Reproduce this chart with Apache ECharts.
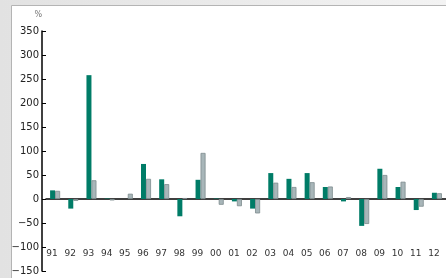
<!DOCTYPE html>
<html>
<head>
<meta charset="utf-8">
<style>
  html, body { margin: 0; padding: 0; background: #ececec; }
  #chart { width: 446px; height: 278px; }
</style>
<script src="https://cdn.jsdelivr.net/npm/echarts@6/dist/echarts.min.js"></script>
</head>
<body>
<div id="chart"></div>
<script>
// years on the x axis
var years = ['91','92','93','94','95','96','97','98','99','00','01','02','03','04','05','06','07','08','09','10','11','12'];
// dark teal series (%)
var tealValues = [18, -20, 258, 1, 0, 73, 41, -36, 40, 1, -5, -20, 54, 42, 54, 25, -5, -56, 63, 25, -23, 13];
// grey series (%)
var greyValues = [17, -4, 39, -3, 11, 42, 31, 2, 96, -12, -15, -30, 34, 25, 35, 26, 4, -52, 50, 36, -16, 12];

var myChart = echarts.init(document.getElementById('chart'));

var option = {
    animation: false,
    backgroundColor: 'transparent',
    textStyle: { fontFamily: 'DejaVu Sans' },
    graphic: [
        {
            type: 'rect',
            left: 0, top: 0,
            shape: { width: 446, height: 278 },
            style: {
                fill: new echarts.graphic.LinearGradient(0, 0, 1, 0, [
                    { offset: 0, color: '#e2e2e2' },
                    { offset: 1, color: '#f3f3f3' }
                ])
            },
            z: -10
        },
        {
            type: 'rect',
            left: 11, top: 5,
            shape: { width: 440, height: 280 },
            style: { fill: '#ffffff', stroke: '#b4b4b4', lineWidth: 1 },
            z: -9
        }
    ],
    grid: {
        left: 46,
        right: 0,
        top: 31,
        bottom: 7,
        containLabel: false,
        outerBoundsMode: 'none'
    },
    xAxis: {
        type: 'category',
        data: years,
        axisLine: { onZero: true, lineStyle: { color: '#000', width: 1.5 } },
        axisTick: { show: false },
        axisLabel: {
            margin: -22,
            fontSize: 9,
            color: '#333',
            padding: [0, 6, 0, 0]
        }
    },
    yAxis: {
        type: 'value',
        min: -150,
        max: 350,
        interval: 50,
        offset: 4,
        name: '%',
        nameGap: 12,
        nameTextStyle: { fontSize: 8, color: '#777', align: 'right' },
        axisLine: { show: true, lineStyle: { color: '#000', width: 1.5 } },
        axisTick: { show: true, inside: true, length: 4, lineStyle: { color: '#000' } },
        axisLabel: {
            fontSize: 10,
            color: '#222',
            margin: 3,
            formatter: function (v) { return String(v).replace('-', '\u2212'); }
        },
        splitLine: { show: false }
    },
    series: [
        {
            type: 'bar',
            data: tealValues,
            barWidth: 5,
            barGap: '0%',
            itemStyle: { color: '#007c67' }
        },
        {
            type: 'bar',
            data: greyValues,
            barWidth: 5,
            itemStyle: { color: '#a8b6b9', borderColor: '#7e8b8e', borderWidth: 0.8 }
        }
    ]
};

myChart.setOption(option);
</script>
</body>
</html>
